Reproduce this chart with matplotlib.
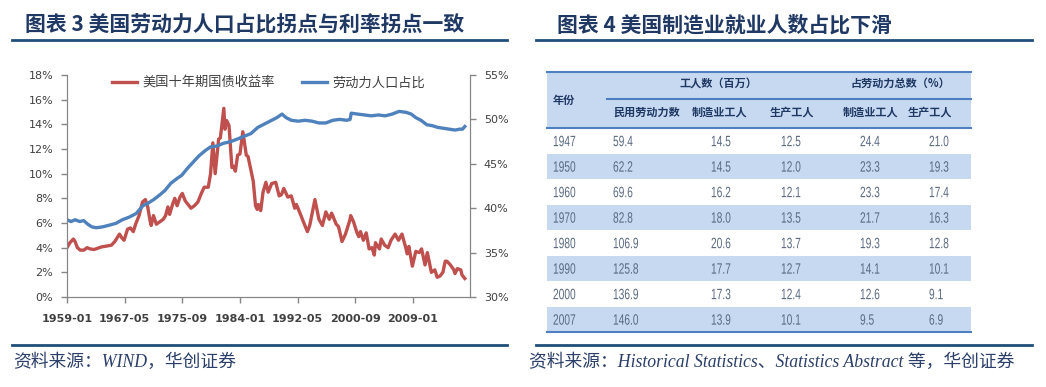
import matplotlib
matplotlib.use("Agg")
import matplotlib.pyplot as plt
import matplotlib.transforms as mtransforms
from matplotlib.patches import Rectangle, PathPatch
from matplotlib.textpath import TextPath
from matplotlib.font_manager import FontProperties

plt.rcParams['font.family'] = ['DejaVu Sans', 'Noto Sans CJK SC']
CJK = ['Noto Sans CJK SC', 'DejaVu Sans']
SRC = ['Liberation Serif', 'Noto Sans CJK SC']

# ---- left chart data ----
yield_dates = ["1959-01", "1959-06", "1959-12", "1960-03", "1960-07", "1960-12", "1961-06", "1961-12",
               "1962-05", "1962-12", "1963-06", "1963-12", "1964-06", "1964-12", "1965-06", "1965-12",
               "1966-08", "1966-12", "1967-04", "1967-10", "1968-03", "1968-08", "1968-12", "1969-06",
               "1969-12", "1970-05", "1970-09", "1971-01", "1971-03", "1971-07", "1971-12", "1972-06",
               "1972-12", "1973-04", "1973-08", "1973-11", "1974-04", "1974-08", "1974-12", "1975-05",
               "1975-09", "1976-02", "1976-12", "1977-06", "1977-12", "1978-06", "1978-11", "1979-06",
               "1979-10", "1980-02", "1980-06", "1980-12", "1981-03", "1981-09", "1981-11", "1982-02",
               "1982-06", "1982-11", "1983-02", "1983-05", "1983-09", "1984-01", "1984-06", "1984-12",
               "1985-03", "1985-08", "1985-12", "1986-04", "1986-07", "1986-09", "1987-01", "1987-05",
               "1987-10", "1988-02", "1988-08", "1989-03", "1989-09", "1990-01", "1990-05", "1990-12",
               "1991-06", "1991-12", "1992-03", "1992-10", "1993-03", "1993-10", "1994-02", "1994-11",
               "1995-06", "1995-12", "1996-06", "1996-12", "1997-04", "1997-12", "1998-04", "1998-10",
               "1999-04", "1999-12", "2000-01", "2000-06", "2000-12", "2001-03", "2001-06", "2001-11",
               "2002-04", "2002-09", "2003-02", "2003-06", "2003-08", "2004-03", "2004-06", "2004-12",
               "2005-06", "2005-11", "2006-06", "2006-12", "2007-06", "2007-12", "2008-03", "2008-06",
               "2008-12", "2009-06", "2009-12", "2010-04", "2010-10", "2011-02", "2011-09", "2012-03",
               "2012-07", "2012-12", "2013-05", "2013-09", "2013-12", "2014-06", "2014-12", "2015-02",
               "2015-06", "2015-12", "2016-02", "2016-07"]
yield_vals = [4.0, 4.4, 4.7, 4.5, 4.0, 3.8, 3.8, 4.0,
              3.9, 3.85, 3.95, 4.05, 4.1, 4.15, 4.2, 4.5,
              5.1, 4.8, 4.6, 5.5, 5.6, 5.3, 5.9, 6.6,
              7.7, 7.9, 7.3, 6.2, 5.8, 6.6, 5.9, 6.1,
              6.3, 6.6, 7.3, 6.7, 7.5, 8.0, 7.4, 8.1,
              8.4, 7.8, 7.2, 7.4, 7.7, 8.4, 8.9, 8.9,
              10.0, 12.5, 10.0, 12.8, 12.9, 15.3, 13.6, 14.3,
              13.9, 10.5, 10.6, 10.2, 11.5, 11.6, 13.4, 11.5,
              11.4, 10.3, 9.4, 7.4, 7.1, 7.5, 7.0, 8.5,
              9.3, 8.5, 9.2, 9.3, 8.2, 8.3, 8.8, 8.1,
              8.2, 7.2, 7.5, 6.7, 6.1, 5.3, 5.8, 7.9,
              6.3, 5.8, 6.9, 6.3, 6.8, 5.9, 5.7, 4.5,
              5.1, 6.3, 6.6, 6.1, 5.2, 4.9, 5.3, 4.6,
              5.2, 3.9, 4.0, 3.4, 4.4, 3.9, 4.7, 4.2,
              4.0, 4.6, 5.1, 4.6, 5.1, 4.1, 3.5, 4.1,
              2.5, 3.7, 3.6, 3.9, 2.6, 3.6, 2.0, 2.2,
              1.6, 1.7, 2.0, 2.9, 2.9, 2.6, 2.2, 1.9,
              2.3, 2.2, 1.8, 1.5]

labor_dates = ["1959-01", "1959-08", "1960-03", "1960-11", "1961-06", "1962-01", "1962-08", "1963-04",
               "1964-03", "1965-03", "1966-02", "1967-01", "1968-01", "1969-01", "1970-01", "1970-08",
               "1971-08", "1972-06", "1973-03", "1974-01", "1975-01", "1975-08", "1976-06", "1977-04",
               "1978-02", "1979-01", "1979-10", "1980-09", "1981-08", "1982-09", "1983-09", "1984-08",
               "1985-08", "1986-08", "1987-08", "1988-08", "1989-05", "1990-02", "1990-09", "1991-06",
               "1992-06", "1993-06", "1994-06", "1995-06", "1996-06", "1997-06", "1998-06", "1999-06",
               "1999-12", "2000-02", "2001-01", "2002-01", "2003-01", "2004-01", "2005-01", "2006-01",
               "2007-01", "2008-01", "2008-10", "2009-06", "2010-03", "2011-01", "2011-10", "2012-08",
               "2013-06", "2014-04", "2015-02", "2015-10", "2016-03", "2016-07"]
labor_vals = [38.7, 38.5, 38.7, 38.5, 38.6, 38.2, 37.9, 37.8,
              37.9, 38.1, 38.3, 38.7, 39.0, 39.4, 40.3, 40.5,
              41.0, 41.5, 42.0, 42.8, 43.4, 43.7, 44.5, 45.2,
              45.9, 46.5, 46.9, 47.0, 47.3, 47.5, 47.8, 48.1,
              48.4, 49.1, 49.5, 49.9, 50.2, 50.6, 50.2, 49.9,
              49.8, 49.9, 49.8, 49.6, 49.6, 49.9, 50.0, 49.9,
              50.0, 50.7, 50.6, 50.5, 50.4, 50.5, 50.4, 50.6,
              50.9, 50.8, 50.6, 50.2, 49.9, 49.4, 49.3, 49.1,
              49.0, 48.9, 48.8, 48.9, 48.9, 49.2]

yield_name = "美国十年期国债收益率"
labor_name = "劳动力人口占比"

# ---- right table data ----
years = ["1947", "1950", "1960", "1970", "1980", "1990", "2000", "2007"]
civ_labor = ["59.4", "62.2", "69.6", "82.8", "106.9", "125.8", "136.9", "146.0"]
mfg_workers = ["14.5", "14.5", "16.2", "18.0", "20.6", "17.7", "17.3", "13.9"]
prod_workers = ["12.5", "12.0", "12.1", "13.5", "13.7", "12.7", "12.4", "10.1"]
mfg_share = ["24.4", "23.3", "23.3", "21.7", "19.3", "14.1", "12.6", "9.5"]
prod_share = ["21.0", "19.3", "17.4", "16.3", "12.8", "10.1", "9.1", "6.9"]


def month_index(s):
    y, m = s.split("-")
    return (int(y) - 1959) * 12 + int(m) - 1


def month_label(i):
    return f"{1959 + i // 12}-{i % 12 + 1:02d}"


W, H = 1046, 387
fig = plt.figure(figsize=(W / 100, H / 100), dpi=100)

# overlay axes in pixel coordinates for titles, rules and the table
ov = fig.add_axes([0, 0, 1, 1])
ov.set_xlim(0, W)
ov.set_ylim(H, 0)
ov.axis("off")

navy = "#1f3864"
rule = "#1f4e79"
ov.text(25, 25, "图表 3 美国劳动力人口占比拐点与利率拐点一致", fontsize=15, fontweight="bold",
        color=navy, family=CJK, va="center", ha="left")
ov.text(557, 25, "图表 4 美国制造业就业人数占比下滑", fontsize=15, fontweight="bold",
        color=navy, family=CJK, va="center", ha="left")
for x0, x1 in [(12, 507), (536, 1032)]:
    ov.plot([x0, x1], [40, 40], color=rule, lw=2)
    ov.plot([x0, x1], [345, 345], color=rule, lw=2)
ov.text(13, 362, "资料来源：WIND，华创证券", fontsize=12.8, style="italic",
        color="#2a3f6a", family=SRC, va="center", ha="left")
ov.text(529, 362, "资料来源：Historical Statistics、Statistics Abstract 等，华创证券", fontsize=12.8,
        style="italic", color="#2a3f6a", family=SRC, va="center", ha="left")

# table
tx0, tx1 = 547, 971
hdr_top, hdr_bot = 72, 128
row_h = 25.5
fill = "#c6d9f1"
line_c = "#4f7fc0"
ov.add_patch(Rectangle((tx0, hdr_top), tx1 - tx0, hdr_bot - hdr_top, color=fill, lw=0))
for i in range(len(years)):
    if i % 2 == 1:
        ov.add_patch(Rectangle((tx0, hdr_bot + i * row_h), tx1 - tx0, row_h, color=fill, lw=0))
ov.plot([tx0, tx1], [hdr_top, hdr_top], color=line_c, lw=1.5)
ov.plot([607, tx1], [99, 99], color=line_c, lw=1.5)
ov.plot([tx0, tx1], [hdr_bot, hdr_bot], color=line_c, lw=1.5)
ov.plot([tx0, tx1], [hdr_bot + len(years) * row_h, hdr_bot + len(years) * row_h], color=line_c, lw=1.5)

hkw = dict(fontsize=8, fontweight="bold", color=navy, family=CJK, va="center")
ov.text(553, 100, "年份", ha="left", **hkw)
ov.text(718, 83, "工人数（百万）", ha="center", **hkw)
ov.text(900, 83, "占劳动力总数（%）", ha="center", **hkw)
for x, lab in zip([613, 720, 792, 871, 930], ["民用劳动力数", "制造业工人", "生产工人", "制造业工人", "生产工人"]):
    ov.text(x, 112, lab, ha="left" if x == 613 else "center", **hkw)

# values in a squeezed sans face, like the narrow font of the original table
num_fp = FontProperties(family="Liberation Sans")


def narrow_text(x, y, s):
    tp = TextPath((0, 0), s, size=15, prop=num_fp)
    tr = mtransforms.Affine2D().scale(0.68, -1).translate(x, y + 5.4) + ov.transData
    ov.add_patch(PathPatch(tp, transform=tr, color="#5a6a82", lw=0))


col_x = [553, 613, 711, 781, 860, 929]
cols = [years, civ_labor, mfg_workers, prod_workers, mfg_share, prod_share]
for i in range(len(years)):
    yc = hdr_bot + (i + 0.5) * row_h
    for x, col in zip(col_x, cols):
        narrow_text(x, yc, col[i])

# ---- left chart ----
ax = fig.add_axes([67 / W, 1 - 297 / H, (470 - 67) / W, (297 - 75) / H])
ax2 = ax.twinx()
ax.patch.set_alpha(0)

red = "#c0504d"
blue = "#4f81bd"
l1, = ax.plot([month_index(d) for d in yield_dates], yield_vals, color=red, lw=2.4, label=yield_name)
l2, = ax2.plot([month_index(d) for d in labor_dates], labor_vals, color=blue, lw=2.4, label=labor_name)

ax.set_xlim(0, 699)
ax.set_ylim(0, 18)
ax2.set_ylim(30, 55)
ax.set_yticks(range(0, 19, 2))
ax.set_yticklabels([f"{v}%" for v in range(0, 19, 2)])
ax2.set_yticks(range(30, 56, 5))
ax2.set_yticklabels([f"{v}%" for v in range(30, 56, 5)])
xt = list(range(0, 601, 100))
ax.set_xticks(xt)
ax.set_xticklabels([month_label(i) for i in xt], fontweight="bold")

grey = "#868686"
for a in (ax, ax2):
    a.spines["top"].set_visible(False)
    for s in ("left", "right", "bottom"):
        a.spines[s].set_color(grey)
    a.tick_params(colors=grey, labelcolor="#404040", labelsize=8, length=4, width=1)
ax.tick_params(axis="x", pad=8)
ax.tick_params(axis="y", pad=6)
ax2.tick_params(axis="y", pad=6)

leg = ax.legend(handles=[l1, l2], loc="upper center", bbox_to_anchor=(0.5, 1.045), ncol=2,
                frameon=False, handlelength=1.9, handletextpad=0.4, columnspacing=2.0,
                prop={"family": CJK, "size": 9.5})
for t in leg.get_texts():
    t.set_color("#404040")

fig.savefig("out.png", dpi=100)
